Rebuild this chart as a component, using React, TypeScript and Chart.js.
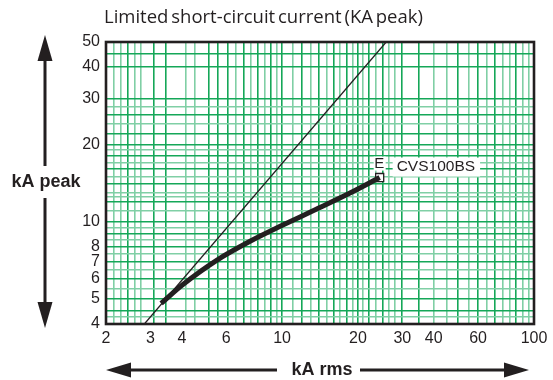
import React, { useEffect, useRef } from "react";
import { Chart, registerables } from "chart.js";

Chart.register(...registerables);

// ---------- data ----------
const chartTitle = "Limited short-circuit current (KA peak)";
const xAxisTitle = "kA rms";
const yAxisTitle = "kA peak";
const curveName = "CVS100BS";
const endMarkName = "E";

const xMin = 2;
const xMax = 100;
const yMin = 4;
const yMax = 50;

const xLabelTicks = [2, 3, 4, 6, 10, 20, 30, 40, 60, 100];
const yLabelTicks = [4, 5, 6, 7, 8, 10, 20, 30, 40, 50];

const xGridLines = [
  2, 2.15, 2.3, 2.45, 2.6, 2.75, 3.1, 3.45, 4.15, 4.5, 5.1, 5.55, 6.1, 6.55, 7.05, 7.5, 8, 8.5, 9, 9.5,
  10, 11, 12, 13, 14, 15, 16, 17, 18, 19, 20, 21, 22, 23.5, 25, 26.5, 28, 30, 35, 40, 45, 50, 55, 60,
  65, 70, 75, 80, 85, 90, 95, 100,
];
const xMajorLines = [
  2, 2.45, 3.1, 3.45, 5.1, 5.55, 6.1, 7.05, 8, 9, 10, 12, 14, 16, 18, 20, 22, 25, 30, 35, 50, 60, 70,
  85, 100,
];
const yGridLines = [
  4, 4.25, 4.5, 5, 5.5, 6, 6.5, 7, 7.5, 8, 8.5, 9, 9.5, 10, 11, 12, 12.5, 13, 14, 15, 16, 17, 18, 19,
  20, 22, 24, 26, 28, 30, 40, 45, 50,
];
const yMajorLines = [4, 4.5, 5, 6, 7, 8, 9, 10, 12, 14, 16, 18, 20, 22, 26, 30, 40, 45, 50];

// thin reference line (kA rms -> kA peak)
const refLineX = [2.84, 25.9];
const refLineY = [4, 50];

// limited peak current curve of CVS100BS
const curveX = [3.31, 4.04, 5.48, 7.43, 10.07, 13.66, 18.52, 24.4];
const curveY = [4.81, 5.7, 7.06, 8.37, 9.7, 11.18, 12.9, 14.85];

// ---------- styles ----------
const INK = "#231f20";
const GRID_DARK = "#15a758";
const GRID_LIGHT = "#80cfa5";
const LABEL_FONT = "'Liberation Sans', Arial, sans-serif";

const toPoints = (xs: number[], ys: number[]) => xs.map((x, i) => ({ x, y: ys[i] }));

const decorPlugin = {
  id: "decor",
  afterDatasetsDraw(chart: any) {
    const { ctx, chartArea } = chart;
    const { left, top, right, bottom } = chartArea;
    ctx.save();
    // frame
    ctx.strokeStyle = INK;
    ctx.lineWidth = 2.6;
    ctx.strokeRect(left, top, right - left, bottom - top);

    // end labels
    const meta = chart.getDatasetMeta(2);
    const pt = meta.data[0];
    if (pt) {
      const px = pt.x;
      const py = pt.y;
      ctx.fillStyle = "#ffffff";
      ctx.fillRect(px - 6, py - 21, 12, 14);
      ctx.font = `15.5px ${LABEL_FONT}`;
      const w = ctx.measureText(curveName).width;
      ctx.fillRect(px + 13, py - 20, w + 9, 19);
      ctx.fillStyle = INK;
      ctx.textBaseline = "middle";
      ctx.textAlign = "center";
      ctx.font = `15px ${LABEL_FONT}`;
      ctx.fillText(endMarkName, px - 0.5, py - 14);
      ctx.font = `15.5px ${LABEL_FONT}`;
      ctx.textAlign = "left";
      ctx.fillText(curveName, px + 17, py - 10.5);
    }
    ctx.restore();
  },
  afterDraw(chart: any) {
    const { ctx } = chart;
    ctx.save();
    ctx.fillStyle = INK;
    ctx.strokeStyle = INK;

    // title
    ctx.font = "18.5px 'Open Sans', 'Liberation Sans', sans-serif";
    try {
      (ctx as any).wordSpacing = "-2px";
    } catch (e) {}
    ctx.textBaseline = "middle";
    ctx.textAlign = "left";
    ctx.fillText(chartTitle, 104, 18, 320);
    try {
      (ctx as any).wordSpacing = "0px";
    } catch (e) {}

    // left vertical arrow
    const ax = 45;
    ctx.lineWidth = 3;
    ctx.beginPath();
    ctx.moveTo(ax, 58);
    ctx.lineTo(ax, 166);
    ctx.moveTo(ax, 198);
    ctx.lineTo(ax, 304);
    ctx.stroke();
    ctx.beginPath();
    ctx.moveTo(ax, 35);
    ctx.lineTo(ax - 7.5, 61);
    ctx.lineTo(ax + 7.5, 61);
    ctx.closePath();
    ctx.fill();
    ctx.beginPath();
    ctx.moveTo(ax, 328);
    ctx.lineTo(ax - 7.5, 302);
    ctx.lineTo(ax + 7.5, 302);
    ctx.closePath();
    ctx.fill();
    ctx.font = `bold 18px ${LABEL_FONT}`;
    ctx.textAlign = "center";
    ctx.fillText(yAxisTitle, 46, 182);

    // bottom horizontal arrow
    const ay = 370;
    ctx.beginPath();
    ctx.moveTo(128, ay);
    ctx.lineTo(277, ay);
    ctx.moveTo(360, ay);
    ctx.lineTo(507, ay);
    ctx.stroke();
    ctx.beginPath();
    ctx.moveTo(106, ay);
    ctx.lineTo(131, ay - 7.5);
    ctx.lineTo(131, ay + 7.5);
    ctx.closePath();
    ctx.fill();
    ctx.beginPath();
    ctx.moveTo(529, ay);
    ctx.lineTo(504, ay - 7.5);
    ctx.lineTo(504, ay + 7.5);
    ctx.closePath();
    ctx.fill();
    ctx.fillText(xAxisTitle, 322, ay);
    ctx.restore();
  },
};

export default function App() {
  const canvasRef = useRef<HTMLCanvasElement | null>(null);

  useEffect(() => {
    if (!canvasRef.current) return;
    const xTicks = Array.from(new Set([...xGridLines, ...xLabelTicks])).sort((a, b) => a - b);
    const yTicks = Array.from(new Set([...yGridLines, ...yLabelTicks])).sort((a, b) => a - b);

    const chart = new Chart(canvasRef.current, {
      type: "line",
      data: {
        datasets: [
          {
            data: toPoints(refLineX, refLineY),
            borderColor: INK,
            borderWidth: 1.3,
            pointRadius: 0,
            fill: false,
          },
          {
            data: toPoints(curveX, curveY),
            borderColor: INK,
            borderWidth: 5,
            pointRadius: 0,
            tension: 0.35,
            fill: false,
          },
          {
            data: toPoints([curveX[curveX.length - 1]], [curveY[curveY.length - 1]]),
            showLine: false,
            pointStyle: "rect",
            pointRadius: 5.7,
            pointBackgroundColor: "#ffffff",
            pointBorderColor: INK,
            pointBorderWidth: 1.3,
          },
        ],
      },
      options: {
        animation: false,
        responsive: false,
        devicePixelRatio: 1,
        layout: { padding: { left: 0, top: 42, right: 19, bottom: 0 } },
        plugins: {
          legend: { display: false },
          tooltip: { enabled: false },
          title: { display: false },
        },
        scales: {
          x: {
            type: "logarithmic",
            min: xMin,
            max: xMax,
            offset: false,
            afterFit: (scale: any) => {
              scale.height = 56;
            },
            afterBuildTicks: (scale: any) => {
              scale.ticks = xTicks.map((v) => ({ value: v }));
            },
            border: { display: false },
            grid: {
              drawTicks: false,
              lineWidth: 1.6,
              color: (c: any) => {
                const v = c.tick ? c.tick.value : NaN;
                if (!xGridLines.includes(v)) return "rgba(0,0,0,0)";
                return xMajorLines.includes(v) ? GRID_DARK : GRID_LIGHT;
              },
            },
            ticks: {
              autoSkip: false,
              maxRotation: 0,
              minRotation: 0,
              padding: 5,
              color: INK,
              font: { family: LABEL_FONT, size: 16 },
              callback: (v: any) => (xLabelTicks.includes(Number(v)) ? String(v) : ""),
            },
          },
          y: {
            type: "logarithmic",
            min: yMin,
            max: yMax,
            afterFit: (scale: any) => {
              scale.width = 106;
            },
            afterBuildTicks: (scale: any) => {
              scale.ticks = yTicks.map((v) => ({ value: v }));
            },
            border: { display: false },
            grid: {
              drawTicks: false,
              lineWidth: 1.6,
              color: (c: any) => {
                const v = c.tick ? c.tick.value : NaN;
                if (!yGridLines.includes(v)) return "rgba(0,0,0,0)";
                return yMajorLines.includes(v) ? GRID_DARK : GRID_LIGHT;
              },
            },
            ticks: {
              autoSkip: false,
              padding: 6,
              color: INK,
              font: { family: LABEL_FONT, size: 16 },
              callback: (v: any) => (yLabelTicks.includes(Number(v)) ? String(v) : ""),
            },
          },
        },
      },
      plugins: [decorPlugin],
    } as any);

    return () => chart.destroy();
  }, []);

  return (
    <div style={{ position: "absolute", left: 0, top: 0, width: 553, height: 380, background: "#fff" }}>
      <canvas ref={canvasRef} width={553} height={380} style={{ display: "block" }} />
    </div>
  );
}
